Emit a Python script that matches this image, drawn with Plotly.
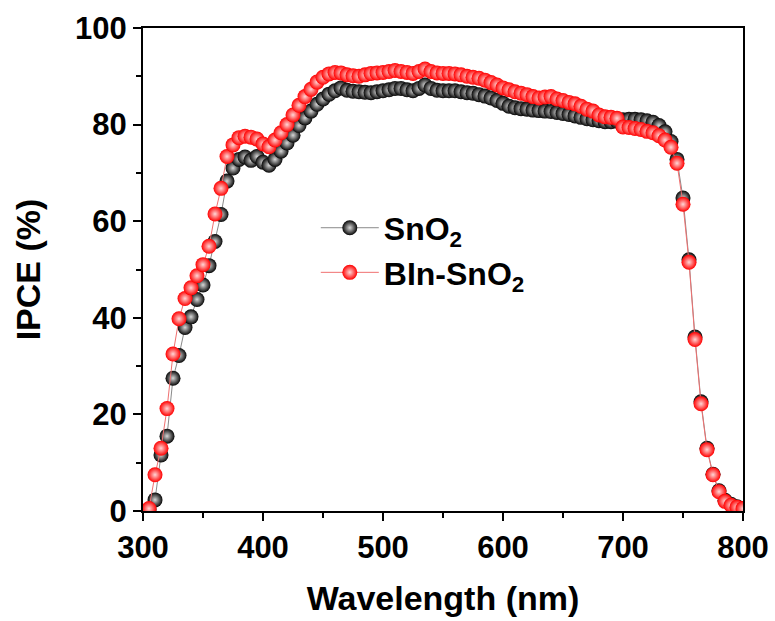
import plotly.graph_objects as go

wavelength = list(range(305, 801, 5))

ipce_sno2 = [
    0.3, 2.3, 11.6, 15.5, 27.5, 32.2, 38.0, 40.2, 43.8, 46.8,
    50.8, 55.8, 61.4, 68.3, 71.0, 72.8, 73.3, 72.6, 73.4, 72.2,
    71.6, 72.8, 74.5, 76.2, 77.8, 79.8, 81.4, 82.8, 84.2, 85.3,
    86.3, 87.0, 87.6, 87.1, 86.9, 86.8, 86.7, 86.6, 86.8, 87.0,
    87.2, 87.5, 87.5, 87.2, 87.0, 87.5, 88.2, 87.5, 87.1, 87.0,
    87.0, 87.0, 86.8, 86.6, 86.5, 86.2, 85.9, 85.5, 85.0, 84.4,
    83.8, 83.5, 83.3, 83.2, 83.0, 82.9, 82.8, 82.7, 82.5, 82.3,
    82.1, 81.8, 81.5, 81.2, 81.0, 80.8, 80.6, 80.6, 80.7, 81.0,
    81.1, 81.1, 81.0, 80.8, 80.5, 79.8, 78.5, 76.5, 72.8, 64.8,
    52.0, 36.0, 22.6, 13.0, 7.6, 4.2, 2.2, 1.4, 0.9, 0.4,
]

ipce_bin_sno2 = [
    0.5, 7.5, 13.0, 21.2, 32.5, 39.8, 44.0, 46.2, 48.7, 51.0,
    54.8, 61.5, 66.8, 73.4, 75.8, 77.3, 77.6, 77.4, 77.0, 76.0,
    75.4, 76.8, 78.3, 80.0, 82.0, 84.0, 85.8, 87.3, 88.8, 89.8,
    90.5, 90.8, 90.7, 90.3, 90.1, 90.0, 90.3, 90.6, 90.7, 90.8,
    91.0, 91.2, 91.0, 90.8, 90.6, 91.0, 91.5, 91.0, 90.7, 90.6,
    90.6, 90.5, 90.3, 90.0, 89.8, 89.6, 89.2, 88.7, 88.2, 87.6,
    87.2, 86.8, 86.5, 86.2, 85.8, 85.5, 85.7, 85.8, 85.3, 85.0,
    84.6, 84.3, 83.8, 83.2, 82.8, 82.0, 81.6, 81.5, 81.3, 79.5,
    79.4, 79.2, 79.0, 78.6, 78.3, 77.7, 76.8, 75.3, 72.0, 63.5,
    51.5, 35.5, 22.2, 12.7, 7.5, 4.0, 2.0, 1.2, 0.8, 0.5,
]

x_ticks = [300, 400, 500, 600, 700, 800]
y_ticks = [0, 20, 40, 60, 80, 100]

FONT = "Liberation Sans, Arial, sans-serif"

fig = go.Figure()
fig.add_trace(go.Scatter(
    x=wavelength, y=ipce_sno2, mode="lines+markers", name="SnO<sub>2</sub>",
    line=dict(color="#8a8a8a", width=1),
    marker=dict(size=15, color="#050505",
                gradient=dict(type="radial", color="#d8d8d8"),
                line=dict(width=0)),
))
fig.add_trace(go.Scatter(
    x=wavelength, y=ipce_bin_sno2, mode="lines+markers", name="BIn-SnO<sub>2</sub>",
    line=dict(color="#f07070", width=1),
    marker=dict(size=15, color="#ff0000",
                gradient=dict(type="radial", color="#ffd6d6"),
                line=dict(width=0)),
))

axis_common = dict(
    showline=True, linecolor="black", linewidth=2, mirror=True,
    ticks="outside", ticklen=8, tickwidth=2, tickcolor="black",
    showgrid=False, zeroline=False, automargin=False,
    tickfont=dict(family=FONT, size=31, color="black", weight="bold"),
)

fig.update_xaxes(
    range=[300, 800], tickvals=x_ticks,
    minor=dict(dtick=50, ticklen=5, tickwidth=2, tickcolor="black", ticks="outside", showgrid=False),
    title=dict(text="Wavelength (nm)", font=dict(family=FONT, size=34, color="black", weight="bold"), standoff=22),
    **axis_common,
)
fig.update_yaxes(
    range=[0, 100], tickvals=y_ticks,
    minor=dict(dtick=10, ticklen=5, tickwidth=2, tickcolor="black", ticks="outside", showgrid=False),
    title=dict(text="IPCE (%)", font=dict(family=FONT, size=34, color="black", weight="bold"), standoff=24),
    **axis_common,
)

fig.update_layout(
    width=775, height=621,
    margin=dict(l=143, r=32, t=28, b=110),
    paper_bgcolor="white", plot_bgcolor="white",
    showlegend=True,
    legend=dict(
        x=0.288, y=0.643, xanchor="left", yanchor="top",
        bgcolor="rgba(0,0,0,0)", borderwidth=0,
        font=dict(family=FONT, size=32, color="black", weight="bold"),
        itemwidth=58, tracegroupgap=0,
    ),
)

fig.write_html("out.html")
